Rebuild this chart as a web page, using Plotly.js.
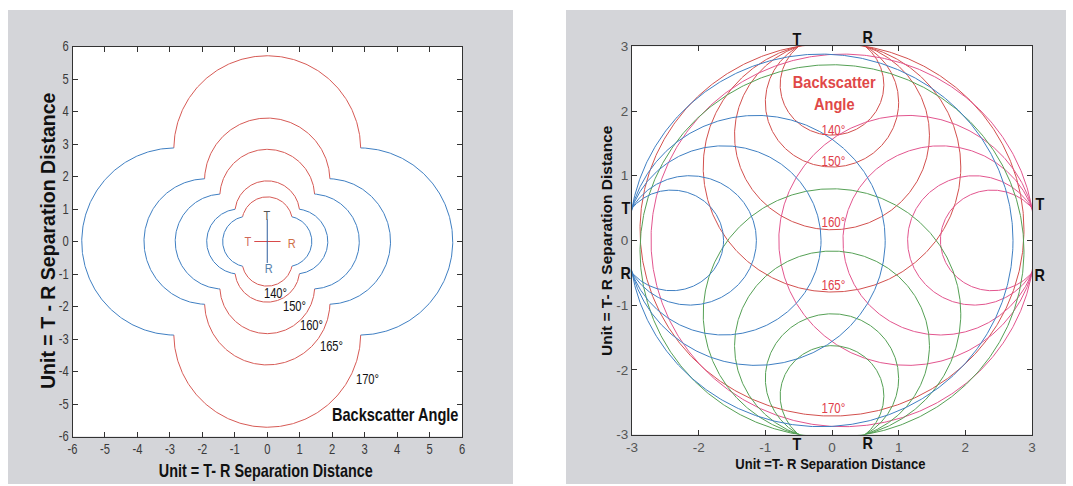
<!DOCTYPE html>
<html><head><meta charset="utf-8">
<script src="https://cdn.plot.ly/plotly-3.0.1.min.js"></script>
<style>html,body{margin:0;padding:0;background:#fff;}#chart{width:1073px;height:486px;}</style>
</head><body><div id="chart"></div>
<script>
// ---------- data ----------
const backscatterAngles = [140, 150, 160, 165, 170];      // degrees
const angleLabels = ['140°', '150°', '160°', '165°', '170°'];
const separation = 1;                                     // T-R separation (unit)
// left chart label positions
const leftLabelX = [0.25, 0.84, 1.35, 1.98, 3.09];
const leftLabelY = [-1.58, -1.99, -2.57, -3.22, -4.22];
// right chart: four T-R pairs (mid points on the edges)
const pairMidX = [0, 3, 0, -3];
const pairMidY = [3, 0, -3, 0];
const rightLabelY = [1.71, 1.23, 0.29, -0.69, -2.59];
// small T-R cross in the left chart
const crossRedX = [-0.4, 0.41], crossRedY = [0, 0];
const crossBlueX = [0, 0], crossBlueY = [0.68, -0.66];
const leftTicks = [-6, -5, -4, -3, -2, -1, 0, 1, 2, 3, 4, 5, 6];
const rightTicks = [-3, -2, -1, 0, 1, 2, 3];
const leftTickText = leftTicks.map(String);
const rightTickText = rightTicks.map(String);

// ---------- styles ----------
const SANS = '"Liberation Sans", Arial, Helvetica, sans-serif';
const pairColors = ['#d2504e', '#e2558e', '#55a055', '#3f7fc2'];
const leftRedColor = '#d65a55', leftBlueColor = '#3f7fc2';
const W = 1073, H = 486;
const px = v => v / W, py = v => 1 - v / H;

function geom(theta) {
  const b = (180 - theta) * Math.PI / 180, h = separation / 2;
  return { r: h / Math.sin(b), c: h / Math.tan(b), h: h };
}

// ---------- left chart: outer boundary of the union of the four loci discs ----------
const N = 240;
const leftRed = { x: [], y: [] }, leftBlue = { x: [], y: [] };
backscatterAngles.forEach(th => {
  const g = geom(th);
  const p = (g.c + Math.sqrt(g.c * g.c + 2 * g.h * g.h)) / 2;
  const a = Math.atan2(p - g.c, p), half = Math.PI / 2 - a;
  [[90, leftRed], [270, leftRed], [0, leftBlue], [180, leftBlue]].forEach(([deg, tgt]) => {
    const d = deg * Math.PI / 180, cx = g.c * Math.cos(d), cy = g.c * Math.sin(d);
    for (let i = 0; i <= N; i++) {
      const t = d - half + 2 * half * i / N;
      tgt.x.push(cx + g.r * Math.cos(t)); tgt.y.push(cy + g.r * Math.sin(t));
    }
    tgt.x.push(null); tgt.y.push(null);
  });
});

// ---------- right chart: full loci circles of each pair ----------
const rightTraces = pairMidX.map((mx, k) => {
  const my = pairMidY[k], len = Math.hypot(mx, my);
  const nx = -mx / len, ny = -my / len;
  const xs = [], ys = [];
  backscatterAngles.forEach(th => {
    const g = geom(th);
    const cx = mx + nx * g.c, cy = my + ny * g.c;
    for (let i = 0; i <= 720; i++) {
      const t = 2 * Math.PI * i / 720;
      xs.push(cx + g.r * Math.cos(t)); ys.push(cy + g.r * Math.sin(t));
    }
    xs.push(null); ys.push(null);
  });
  return { type: 'scatter', mode: 'lines', x: xs, y: ys, xaxis: 'x2', yaxis: 'y2',
           line: { color: pairColors[k], width: 1 }, hoverinfo: 'skip' };
});

const traces = [
  { type: 'scatter', mode: 'lines', x: leftRed.x, y: leftRed.y, line: { color: leftRedColor, width: 1 }, hoverinfo: 'skip' },
  { type: 'scatter', mode: 'lines', x: leftBlue.x, y: leftBlue.y, line: { color: leftBlueColor, width: 1 }, hoverinfo: 'skip' },
  { type: 'scatter', mode: 'lines', x: crossRedX, y: crossRedY, line: { color: '#d84a4a', width: 1 }, hoverinfo: 'skip' },
  { type: 'scatter', mode: 'lines', x: crossBlueX, y: crossBlueY, line: { color: '#2f5f9f', width: 1 }, hoverinfo: 'skip' },
  ...rightTraces
];

const axBase = {
  showgrid: false, zeroline: false, showline: true, mirror: 'ticks', ticks: 'inside',
  ticklen: 5, tickwidth: 1, tickcolor: '#333', linecolor: '#333', linewidth: 1,
  tickfont: { family: SANS, size: 14, color: '#3a3a3a' }, fixedrange: true, tickmode: 'array'
};

// annotations; each may carry a horizontal condensing factor (the reference text is narrow)
const annotations = [];
const annScale = {};
function ann(o, s) {
  annScale[annotations.length] = s || 1;
  annotations.push(Object.assign({ showarrow: false, xanchor: 'center', yanchor: 'middle' }, o));
}
// left labels
angleLabels.forEach((t, i) => ann({ xref: 'x', yref: 'y', x: leftLabelX[i], y: leftLabelY[i], text: t,
  font: { family: SANS, size: 14, color: '#111' } }, 0.8));
ann({ xref: 'x', yref: 'y', x: 3.95, y: -5.35, text: '<b>Backscatter Angle</b>', font: { family: SANS, size: 18, color: '#111' } }, 0.81);
ann({ xref: 'x', yref: 'y', x: -0.6, y: 0, text: 'T', font: { family: SANS, size: 13, color: '#d0685a' } }, 0.85);
ann({ xref: 'x', yref: 'y', x: 0.75, y: -0.05, text: 'R', font: { family: SANS, size: 13, color: '#d07048' } }, 0.85);
ann({ xref: 'x', yref: 'y', x: 0, y: 0.8, text: 'T', font: { family: SANS, size: 13, color: '#555' } }, 0.85);
ann({ xref: 'x', yref: 'y', x: 0.03, y: -0.83, text: 'R', font: { family: SANS, size: 13, color: '#5580aa' } }, 0.85);
// left axis titles
ann({ xref: 'paper', yref: 'paper', x: px(266), y: py(471), text: '<b>Unit = T- R Separation Distance</b>',
  font: { family: SANS, size: 18, color: '#111' } }, 0.8);
ann({ xref: 'paper', yref: 'paper', x: px(48), y: py(241), text: '<b>Unit = T - R Separation Distance</b>',
  textangle: -90, font: { family: SANS, size: 19.5, color: '#111' } });
// right labels
angleLabels.forEach((t, i) => ann({ xref: 'x2', yref: 'y2', x: 0.02, y: rightLabelY[i], text: t,
  font: { family: SANS, size: 14, color: '#e0404a' } }, 0.82));
ann({ xref: 'x2', yref: 'y2', x: 0.03, y: 2.27, text: '<b>Backscatter<br>Angle</b>',
  font: { family: SANS, size: 17, color: '#e04848' } }, 0.86);
// T / R markers around the right chart
const trMarks = [
  ['T', 797, 39], ['R', 868, 38],
  ['T', 626, 208], ['R', 626, 273],
  ['T', 1040, 204], ['R', 1040, 275],
  ['T', 797, 444], ['R', 868, 443]
];
trMarks.forEach(([t, x, y]) => ann({ xref: 'paper', yref: 'paper', x: px(x), y: py(y), text: '<b>' + t + '</b>',
  font: { family: SANS, size: 16, color: '#111' } }, 0.9));
// right axis titles
ann({ xref: 'paper', yref: 'paper', x: px(831), y: py(463), text: '<b>Unit =T- R Separation Distance</b>',
  font: { family: SANS, size: 15, color: '#111' } }, 0.87);
ann({ xref: 'paper', yref: 'paper', x: px(606), y: py(241), text: '<b>Unit = T- R Separation Distance</b>',
  textangle: -90, font: { family: SANS, size: 15.5, color: '#111' } });

const layout = {
  width: W, height: H, margin: { l: 0, r: 0, t: 0, b: 0 }, showlegend: false,
  paper_bgcolor: '#ffffff', plot_bgcolor: '#ffffff',
  xaxis: { ...axBase, domain: [px(72.5), px(462)], range: [-6, 6], tickvals: leftTicks, ticktext: leftTickText, anchor: 'y' },
  yaxis: { ...axBase, domain: [py(436.5), py(46.5)], range: [-6, 6], tickvals: leftTicks, ticktext: leftTickText, anchor: 'x' },
  xaxis2: { ...axBase, domain: [px(632), px(1032)], range: [-3, 3], tickvals: rightTicks, ticktext: rightTickText, anchor: 'y2',
            tickfont: { family: SANS, size: 13.5, color: '#555' } },
  yaxis2: { ...axBase, domain: [py(434.5), py(46.3)], range: [-3, 3], tickvals: rightTicks, ticktext: rightTickText, anchor: 'x2',
            tickfont: { family: SANS, size: 13.5, color: '#555' } },
  shapes: [
    { type: 'rect', xref: 'paper', yref: 'paper', x0: px(8), x1: px(513), y0: py(484), y1: py(10), fillcolor: '#d4d5d9', line: { width: 0 }, layer: 'below' },
    { type: 'rect', xref: 'paper', yref: 'paper', x0: px(566), x1: px(1066), y0: py(484), y1: py(10), fillcolor: '#d4d5d9', line: { width: 0 }, layer: 'below' },
    { type: 'rect', xref: 'paper', yref: 'paper', x0: px(72.5), x1: px(462), y0: py(436.5), y1: py(46.5), fillcolor: '#ffffff', line: { width: 0 }, layer: 'below' },
    { type: 'rect', xref: 'paper', yref: 'paper', x0: px(632), x1: px(1032), y0: py(434.5), y1: py(46.3), fillcolor: '#ffffff', line: { width: 0 }, layer: 'below' }
  ],
  annotations: annotations
};

function condense(el, s, anchor) {
  const bb = el.getBBox();
  const cx = anchor === 'end' ? bb.x + bb.width : bb.x + bb.width / 2;
  const prev = el.getAttribute('transform') || '';
  el.setAttribute('transform', prev + ' translate(' + cx + ',0) scale(' + s + ',1) translate(' + (-cx) + ',0)');
}

Plotly.newPlot('chart', traces, layout, { staticPlot: true, displayModeBar: false }).then(() => {
  document.querySelectorAll('#chart g.annotation').forEach(g => {
    const i = +g.getAttribute('data-index');
    const s = annScale[i];
    if (s && s !== 1) { const t = g.querySelector('text'); if (t) condense(t, s, 'middle'); }
  });
  document.querySelectorAll('#chart .xtick text').forEach(t => condense(t, 0.8, 'middle'));
  document.querySelectorAll('#chart .ytick text').forEach(t => condense(t, 0.8, 'end'));
});
</script></body></html>
